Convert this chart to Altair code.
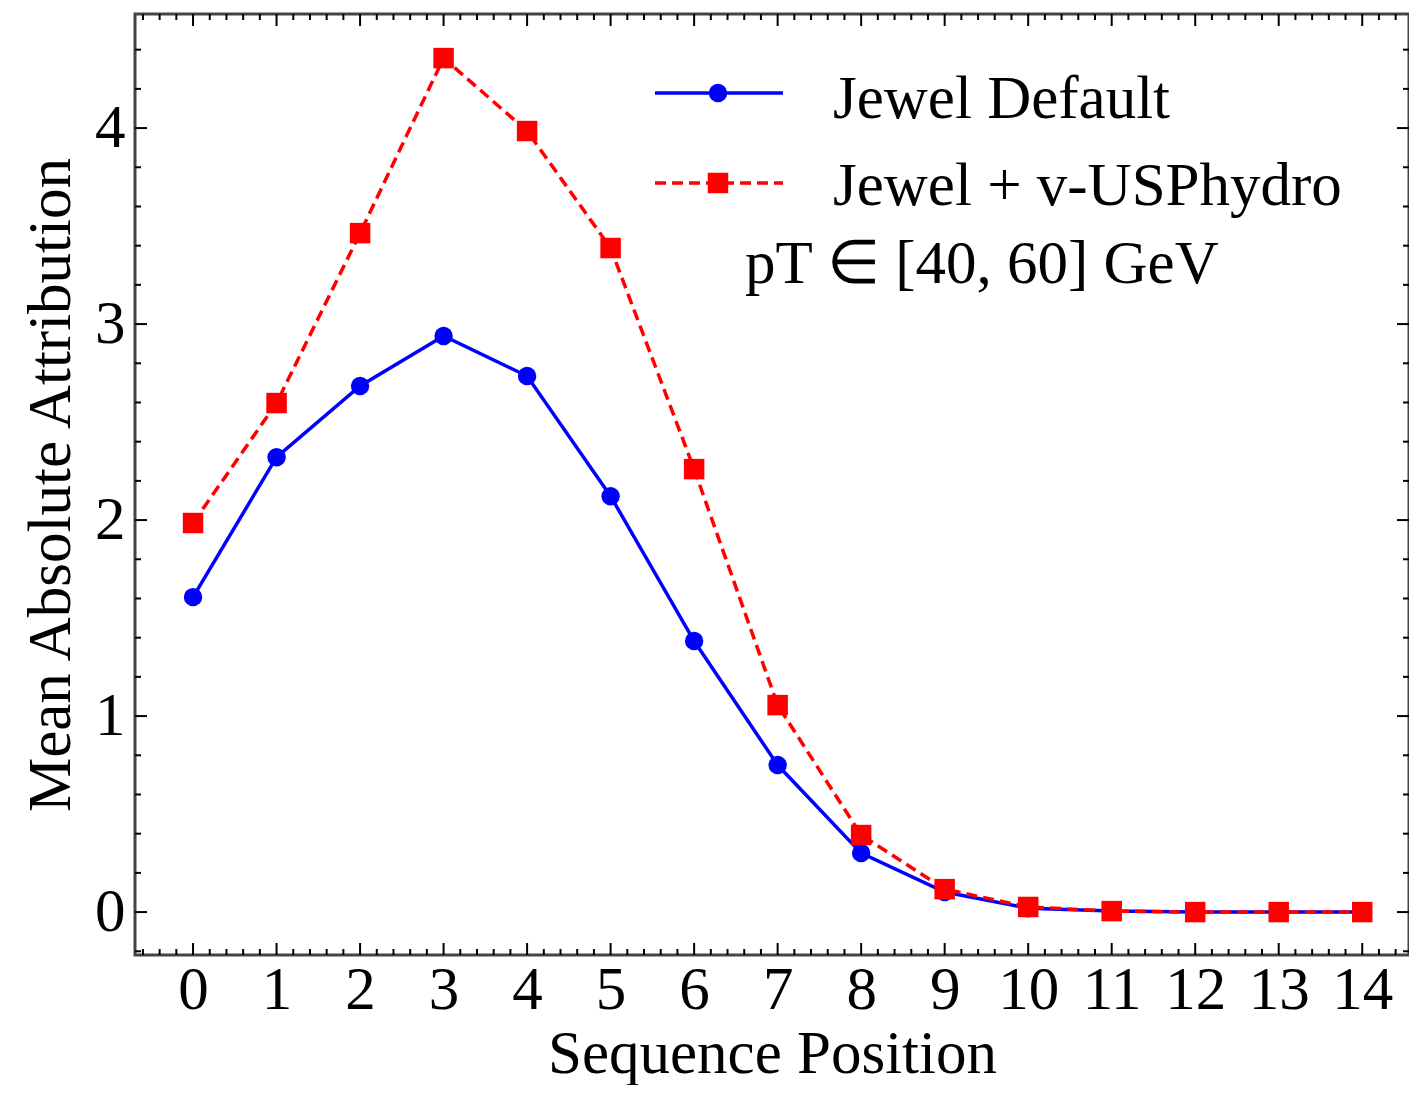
import altair as alt
import pandas as pd

# ---- data ----
positions = list(range(15))
jewel_default = [1.607, 2.321, 2.684, 2.939, 2.735, 2.122, 1.383, 0.750, 0.301, 0.102, 0.020, 0.005, 0.0, 0.0, 0.0]
jewel_hydro = [1.985, 2.597, 3.464, 4.357, 3.985, 3.388, 2.260, 1.056, 0.393, 0.117, 0.026, 0.005, 0.0, 0.0, 0.0]

x_major = list(range(15))
x_minor = [round(-0.6 + 0.2 * i, 1) for i in range(76) if abs(round(-0.6 + 0.2 * i, 1) % 1) > 1e-9]
y_major = [0, 1, 2, 3, 4]
y_minor = [round(-0.2 + 0.2 * i, 1) for i in range(24) if abs(round(-0.2 + 0.2 * i, 1) % 1) > 1e-9]

series_names = ["Jewel Default", "Jewel + v-USPhydro"]
annotation = "pT ∈ [40, 60] GeV"

W, H = 1274, 941
FONT = "Liberation Serif"
FS = 61

x_dom = [-0.695, 14.56]
y_dom = [-0.219, 4.582]
xs = alt.Scale(domain=x_dom, nice=False, zero=False)
ys = alt.Scale(domain=y_dom, nice=False, zero=False)

df_b = pd.DataFrame({"x": positions, "y": jewel_default})
df_r = pd.DataFrame({"x": positions, "y": jewel_hydro})

x_axis = alt.Axis(values=x_major, format="d", ticks=False, domain=False, grid=False,
                  labelFont=FONT, labelFontSize=FS, labelColor="black", labelPadding=5,
                  title="Sequence Position", titleFont=FONT, titleFontSize=FS,
                  titleFontWeight="normal", titleColor="black", titlePadding=4)
y_axis = alt.Axis(values=y_major, format="d", ticks=False, domain=False, grid=False,
                  labelFont=FONT, labelFontSize=FS, labelColor="black", labelPadding=10,
                  title="Mean Absolute Attribution", titleFont=FONT, titleFontSize=FS,
                  titleFontWeight="normal", titleColor="black", titlePadding=12)

X = lambda f: alt.X(f, scale=xs, axis=x_axis)
Y = lambda f: alt.Y(f, scale=ys, axis=y_axis)

blue = "#0000ff"
red = "#ff0000"

line_b = alt.Chart(df_b).mark_line(color=blue, strokeWidth=3.5).encode(x=X("x:Q"), y=Y("y:Q"))
pts_b = alt.Chart(df_b).mark_point(shape="circle", filled=True, color=blue, size=340, opacity=1).encode(
    x=X("x:Q"), y=Y("y:Q"))
line_r = alt.Chart(df_r).mark_line(color=red, strokeWidth=3.5, strokeDash=[11, 6]).encode(
    x=X("x:Q"), y=Y("y:Q"))
pts_r = alt.Chart(df_r).mark_point(shape="square", filled=True, color=red, size=420, opacity=1).encode(
    x=X("x:Q"), y=Y("y:Q"))

# ---- inward ticks on all four sides ----
def xticks(vals, length, top):
    d = pd.DataFrame({"x": vals})
    y0 = 0 if top else H
    y1 = length if top else H - length
    return alt.Chart(d).mark_rule(color="black", strokeWidth=2).encode(
        x=X("x:Q"), y=alt.value(y0), y2=alt.value(y1))

def yticks(vals, length, right):
    d = pd.DataFrame({"y": vals})
    x0 = W if right else 0
    x1 = W - length if right else length
    return alt.Chart(d).mark_rule(color="black", strokeWidth=2).encode(
        y=Y("y:Q"), x=alt.value(x0), x2=alt.value(x1))

ticks = [
    xticks(x_major, 12, False), xticks(x_minor, 6, False),
    xticks(x_major, 12, True), xticks(x_minor, 6, True),
    yticks(y_major, 12, False), yticks(y_minor, 6, False),
    yticks(y_major, 12, True), yticks(y_minor, 6, True),
]

# ---- manual legend ----
one = pd.DataFrame({"a": [0]})
leg_line_b = alt.Chart(one).mark_rule(color=blue, strokeWidth=3.5).encode(
    x=alt.value(520), x2=alt.value(648), y=alt.value(79))
leg_pt_b = alt.Chart(one).mark_point(shape="circle", filled=True, color=blue, size=340, opacity=1).encode(
    x=alt.value(583), y=alt.value(79))
leg_line_r = alt.Chart(one).mark_rule(color=red, strokeWidth=3.5, strokeDash=[11, 6]).encode(
    x=alt.value(520), x2=alt.value(648), y=alt.value(169))
leg_pt_r = alt.Chart(one).mark_point(shape="square", filled=True, color=red, size=420, opacity=1).encode(
    x=alt.value(583), y=alt.value(169))
leg_txt_b = alt.Chart(one).mark_text(align="left", baseline="alphabetic", font=FONT, fontSize=FS, color="black").encode(
    x=alt.value(698), y=alt.value(104), text=alt.value(series_names[0]))
leg_txt_r = alt.Chart(one).mark_text(align="left", baseline="alphabetic", font=FONT, fontSize=FS, color="black").encode(
    x=alt.value(698), y=alt.value(191), text=alt.value(series_names[1]))
ann_txt = alt.Chart(one).mark_text(align="left", baseline="alphabetic", font=FONT, fontSize=FS, color="black").encode(
    x=alt.value(610), y=alt.value(269), text=alt.value(annotation))

chart = alt.layer(
    line_b, pts_b, line_r, pts_r, *ticks,
    leg_line_b, leg_pt_b, leg_line_r, leg_pt_r, leg_txt_b, leg_txt_r, ann_txt,
).properties(
    width=W, height=H,
    autosize=alt.AutoSizeParams(type="none"),
    padding={"left": 127, "top": 6, "right": 0, "bottom": 130},
    background="white",
).configure_view(stroke="#444", strokeWidth=3)

chart.save("out.html", embed_options={"renderer": "svg", "actions": False})
